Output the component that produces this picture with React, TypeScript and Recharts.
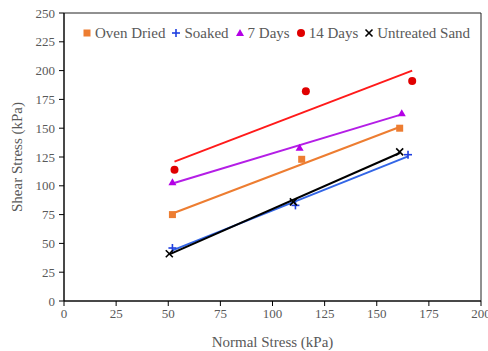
import React from 'react';
import {
    ComposedChart, Scatter, Line, XAxis, YAxis, ReferenceArea
} from 'recharts';

// measured points (normal stress, shear stress) in kPa
const ovenX = [52, 114, 161];
const ovenY = [75, 123, 150];
const soakedX = [52, 111, 165];
const soakedY = [46, 83, 127];
const days7X = [52, 113, 162];
const days7Y = [103, 133, 163];
const days14X = [53, 116, 167];
const days14Y = [114, 182, 191];
const untreatedX = [50.5, 110, 161];
const untreatedY = [41, 86, 129.5];

// linear trendline end points
const ovenTrend = [[52, 76], [161, 151]];
const soakedTrend = [[52, 44], [165, 125.5]];
const days7Trend = [[52, 102], [162, 162]];
const days14Trend = [[53, 121], [167, 200]];
const untreatedTrend = [[50.5, 40.5], [161, 128.5]];

const X_TICKS = [0, 25, 50, 75, 100, 125, 150, 175, 200];
const Y_TICKS = [0, 25, 50, 75, 100, 125, 150, 175, 200, 225, 250];

const FONT = '"Liberation Serif", "Times New Roman", serif';
const TEXT = '#595959';

const toPoints = (xs: number[], ys: number[]) => xs.map((x, i) => ({ x, y: ys[i] }));
const toLine = (pts: number[][]) => pts.map(([x, y]) => ({ x, y }));

const Marker = ({ kind, cx, cy, color }: any) => {
    if (kind === 'square') return <rect x={cx - 3.5} y={cy - 3.5} width={7} height={7} fill={color} />;
    if (kind === 'plus') return (
        <g stroke={color} strokeWidth={1.6}>
            <line x1={cx - 4} y1={cy} x2={cx + 4} y2={cy} />
            <line x1={cx} y1={cy - 4} x2={cx} y2={cy + 4} />
        </g>
    );
    if (kind === 'triangle') return <polygon points={`${cx},${cy - 4} ${cx + 4},${cy + 3} ${cx - 4},${cy + 3}`} fill={color} />;
    if (kind === 'circle') return <circle cx={cx} cy={cy} r={4} fill={color} />;
    return (
        <g stroke={color} strokeWidth={1.6}>
            <line x1={cx - 3.5} y1={cy - 3.5} x2={cx + 3.5} y2={cy + 3.5} />
            <line x1={cx - 3.5} y1={cy + 3.5} x2={cx + 3.5} y2={cy - 3.5} />
        </g>
    );
};

const SERIES = [
    { name: 'Oven Dried', kind: 'square', color: '#ED7D31', line: '#ED7D31', pts: toPoints(ovenX, ovenY), trend: toLine(ovenTrend) },
    { name: 'Soaked', kind: 'plus', color: '#1F3FE0', line: '#3366E6', pts: toPoints(soakedX, soakedY), trend: toLine(soakedTrend) },
    { name: '7 Days', kind: 'triangle', color: '#B400E6', line: '#B41EE6', pts: toPoints(days7X, days7Y), trend: toLine(days7Trend) },
    { name: '14 Days', kind: 'circle', color: '#E00000', line: '#FF1A1A', pts: toPoints(days14X, days14Y), trend: toLine(days14Trend) },
    { name: 'Untreated Sand', kind: 'cross', color: '#000000', line: '#000000', pts: toPoints(untreatedX, untreatedY), trend: toLine(untreatedTrend) },
];

// legend sits inside the plot box, so it is drawn as an overlay
const LegendRow = () => (
    <div style={{ position: 'absolute', top: 23, left: 82, display: 'flex', alignItems: 'center', fontFamily: FONT, fontSize: 15, lineHeight: '20px', color: TEXT, whiteSpace: 'nowrap' }}>
        {SERIES.map(s => (
            <div key={s.name} style={{ display: 'flex', alignItems: 'center', marginRight: 6 }}>
                <svg width={10} height={10} style={{ marginRight: 3 }}>
                    <Marker kind={s.kind} cx={5} cy={5} color={s.color} />
                </svg>
                <span>{s.name}</span>
            </div>
        ))}
    </div>
);

export default function App() {
    return (
        <div style={{ position: 'absolute', left: 0, top: 0, width: 488, height: 351, background: '#fff' }}>
            <ComposedChart width={488} height={351} margin={{ top: 13, right: 7, left: 0, bottom: 0 }}>
                <XAxis
                    type="number"
                    dataKey="x"
                    domain={[0, 200]}
                    ticks={X_TICKS}
                    interval={0}
                    height={50}
                    tickSize={5}
                    tickMargin={3}
                    stroke="#000"
                    tick={{ fill: TEXT, fontSize: 13, fontFamily: FONT }}
                    label={{ value: 'Normal Stress (kPa)', position: 'insideBottom', offset: 4, fill: TEXT, fontSize: 15, fontFamily: FONT }}
                />
                <YAxis
                    type="number"
                    dataKey="y"
                    domain={[0, 250]}
                    ticks={Y_TICKS}
                    interval={0}
                    width={64}
                    tickSize={5}
                    tickMargin={4}
                    stroke="#000"
                    tick={{ fill: TEXT, fontSize: 13, fontFamily: FONT }}
                    label={{ value: 'Shear Stress (kPa)', angle: -90, position: 'insideLeft', offset: 17, fill: TEXT, fontSize: 15, fontFamily: FONT, style: { textAnchor: 'middle' } }}
                />
                <ReferenceArea x1={0} x2={200} y1={0} y2={250} fill="none" stroke="#222" strokeWidth={1} />
                {SERIES.map(s => (
                    <Line
                        key={`trend-${s.name}`}
                        data={s.trend}
                        dataKey="y"
                        stroke={s.line}
                        strokeWidth={2}
                        dot={false}
                        activeDot={false}
                        legendType="none"
                        isAnimationActive={false}
                    />
                ))}
                {SERIES.map(s => (
                    <Scatter
                        key={s.name}
                        name={s.name}
                        data={s.pts}
                        dataKey="y"
                        fill={s.color}
                        shape={(p: any) => <Marker kind={s.kind} cx={p.cx} cy={p.cy} color={s.color} />}
                        isAnimationActive={false}
                    />
                ))}
            </ComposedChart>
            <LegendRow />
        </div>
    );
}
